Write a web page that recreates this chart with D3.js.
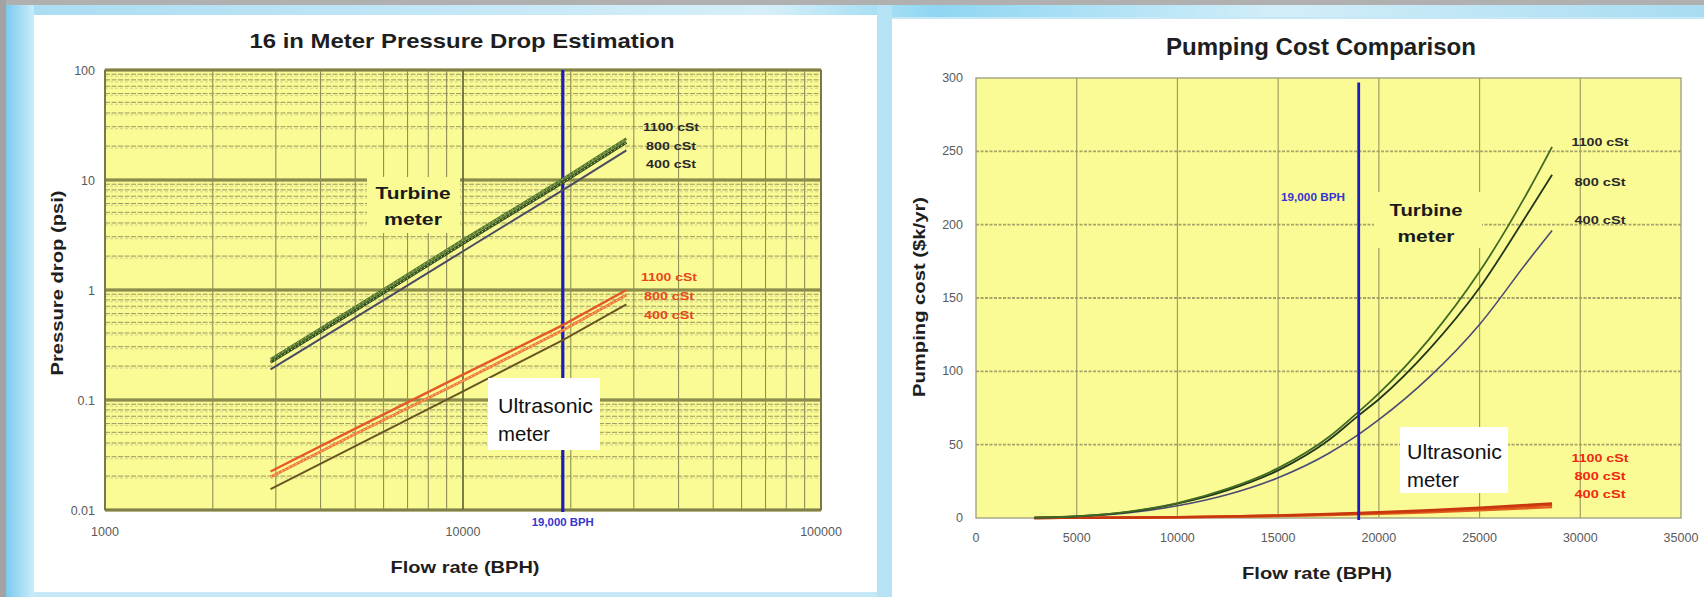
<!DOCTYPE html>
<html>
<head>
<meta charset="utf-8">
<script src="https://cdn.jsdelivr.net/npm/d3@7"></script>
<style>
  body { margin: 0; overflow: hidden; background: #ffffff; }
  svg { display: block; }
</style>
</head>
<body>
<svg id="chart" width="1704" height="597"></svg>
<script>
// ---- Pressure drop (log-log) : flow rate in BPH, drop in psi ----
const dropFlow = [2900, 5000, 10000, 19000, 28600];
const turbineDrop1100 = [0.234, 0.70, 2.85, 10.2, 23.8];
const turbineDrop800  = [0.220, 0.65, 2.65, 9.5, 22.0];
const turbineDrop400  = [0.190, 0.56, 2.25, 8.1, 18.6];
const ultraDrop1100 = [0.0224, 0.055, 0.17, 0.48, 1.00];
const ultraDrop800  = [0.0200, 0.049, 0.15, 0.43, 0.90];
const ultraDrop400  = [0.0155, 0.038, 0.12, 0.35, 0.74];

// ---- Pumping cost (linear) : flow rate in BPH, cost in $k/yr ----
const costFlow = [2900, 5000, 7500, 10000, 12500, 15000, 17500, 19000, 20000, 22500, 25000, 27500, 28600];
const turbineCost1100 = [0.2, 1.2, 4.2, 10.2, 20, 34, 55, 72.5, 85, 122, 168, 225, 253];
const turbineCost800  = [0.2, 1.1, 4.0, 9.8, 19, 32.5, 53, 70, 81, 115, 157, 210, 234];
const turbineCost400  = [0.2, 1.0, 3.4, 8.3, 16, 27.5, 44, 57, 67, 96, 132, 177, 196];
const ultraCost1100 = [0.02, 0.1, 0.3, 0.6, 1.1, 1.8, 2.7, 3.4, 3.9, 5.3, 7.0, 9.0, 10.0];
const ultraCost800  = [0.02, 0.09, 0.27, 0.55, 1.0, 1.6, 2.4, 3.1, 3.5, 4.8, 6.3, 8.1, 9.0];
const ultraCost400  = [0.015, 0.07, 0.2, 0.45, 0.8, 1.3, 2.0, 2.5, 2.9, 3.9, 5.2, 6.7, 7.4];

const viscosityLabels = ["1100 cSt", "800 cSt", "400 cSt"];
const logFlowTicks = [1000, 10000, 100000];
const logDropTicks = [0.01, 0.1, 1, 10, 100];
const linFlowTicks = [0, 5000, 10000, 15000, 20000, 25000, 30000, 35000];
const linCostTicks = [0, 50, 100, 150, 200, 250, 300];
const markerFlow = 19000;
const markerLabel = "19,000 BPH";

const svg = d3.select("#chart");
const defs = svg.append("defs");

// ---------- slide backdrop ----------
const gBand = defs.append("linearGradient").attr("id", "bandH").attr("x1", 0).attr("x2", 1).attr("y1", 0).attr("y2", 0);
gBand.append("stop").attr("offset", "0%").attr("stop-color", "#7ccbed");
gBand.append("stop").attr("offset", "100%").attr("stop-color", "#c9ecf9");
const gTop = defs.append("linearGradient").attr("id", "bandTop").attr("x1", 0).attr("x2", 1).attr("y1", 0).attr("y2", 0);
gTop.append("stop").attr("offset", "0%").attr("stop-color", "#a9dcf2");
gTop.append("stop").attr("offset", "45%").attr("stop-color", "#d6eff9");
gTop.append("stop").attr("offset", "55%").attr("stop-color", "#8fd6f2");
gTop.append("stop").attr("offset", "75%").attr("stop-color", "#d3eef9");
gTop.append("stop").attr("offset", "100%").attr("stop-color", "#a8dcf1");

svg.append("rect").attr("width", 1704).attr("height", 597).attr("fill", "#c6e8f6");
svg.append("rect").attr("x", 0).attr("y", 5).attr("width", 1704).attr("height", 12).attr("fill", "url(#bandTop)");
svg.append("rect").attr("x", 6).attr("y", 5).attr("width", 28).attr("height", 592).attr("fill", "url(#bandH)");
svg.append("rect").attr("x", 877).attr("y", 5).attr("width", 15).attr("height", 592).attr("fill", "#b6e2f5");
svg.append("rect").attr("x", 0).attr("y", 0).attr("width", 1704).attr("height", 5).attr("fill", "#b0b0b0");
svg.append("rect").attr("x", 0).attr("y", 0).attr("width", 6).attr("height", 597).attr("fill", "#a3a3a3");
svg.append("rect").attr("x", 34).attr("y", 15).attr("width", 843).attr("height", 577).attr("fill", "#ffffff");
svg.append("rect").attr("x", 892).attr("y", 19).attr("width", 812).attr("height", 578).attr("fill", "#ffffff");

const plotFill = "#fbfb96";
const font = "'Liberation Sans', Arial, sans-serif";
const narrow = "'Liberation Sans Narrow', 'Liberation Sans', Arial, sans-serif";

function addText(g, x, y, str, opt) {
  const t = g.append("text")
    .attr("x", x).attr("y", y)
    .attr("dominant-baseline", "central")
    .attr("text-anchor", opt.anchor || "middle")
    .attr("font-family", opt.family || font)
    .attr("font-size", opt.size)
    .attr("font-weight", opt.weight || "normal")
    .attr("fill", opt.fill || "#222")
    .text(str);
  if (opt.len) t.attr("textLength", opt.len).attr("lengthAdjust", "spacingAndGlyphs");
  if (opt.rotate) t.attr("transform", `rotate(-90,${x},${y})`);
  return t;
}

// =====================================================================
// Left: 16 in Meter Pressure Drop Estimation (log-log)
// =====================================================================
const xL = d3.scaleLog().domain([1000, 100000]).range([105, 821]);
const yL = d3.scaleLog().domain([0.01, 100]).range([510, 70]);
const gL = svg.append("g");

gL.append("rect")
  .attr("x", xL.range()[0]).attr("y", yL.range()[1])
  .attr("width", xL.range()[1] - xL.range()[0])
  .attr("height", yL.range()[0] - yL.range()[1])
  .attr("fill", plotFill);

const isDecade = v => Math.abs(Math.log10(v) - Math.round(Math.log10(v))) < 1e-9;

// horizontal log grid: minor lines as doubled dashed rules, decades as heavy bands
const hTicks = yL.ticks();
const hMinor = hTicks.filter(v => !isDecade(v));
gL.selectAll("line.hminA").data(hMinor).join("line")
  .attr("x1", xL.range()[0]).attr("x2", xL.range()[1])
  .attr("y1", d => yL(d) - 0.8).attr("y2", d => yL(d) - 0.8)
  .attr("stroke", "#97975e").attr("stroke-width", 1).attr("stroke-dasharray", "5,1.5");
gL.selectAll("line.hminB").data(hMinor).join("line")
  .attr("x1", xL.range()[0]).attr("x2", xL.range()[1])
  .attr("y1", d => yL(d) + 1.2).attr("y2", d => yL(d) + 1.2)
  .attr("stroke", "#c6c68a").attr("stroke-width", 0.8).attr("stroke-dasharray", "3,2");
gL.selectAll("line.hmaj").data(hTicks.filter(isDecade)).join("line")
  .attr("x1", xL.range()[0]).attr("x2", xL.range()[1])
  .attr("y1", d => yL(d)).attr("y2", d => yL(d))
  .attr("stroke", "#9c9c5a").attr("stroke-width", 3.5);
gL.selectAll("line.hmajc").data(hTicks.filter(isDecade)).join("line")
  .attr("x1", xL.range()[0]).attr("x2", xL.range()[1])
  .attr("y1", d => yL(d)).attr("y2", d => yL(d))
  .attr("stroke", "#7d7d40").attr("stroke-width", 1);

// vertical log grid
gL.selectAll("line.vg").data(xL.ticks()).join("line")
  .attr("x1", d => xL(d)).attr("x2", d => xL(d))
  .attr("y1", yL.range()[1]).attr("y2", yL.range()[0])
  .attr("stroke", d => isDecade(d) ? "#66663a" : "#8f8f58")
  .attr("stroke-width", d => isDecade(d) ? 1.7 : 1.1);

// plot frame
gL.append("rect")
  .attr("x", xL.range()[0]).attr("y", yL.range()[1])
  .attr("width", xL.range()[1] - xL.range()[0])
  .attr("height", yL.range()[0] - yL.range()[1])
  .attr("fill", "none").attr("stroke", "#77774a").attr("stroke-width", 1.2);

// "Turbine meter" label sits on a plain yellow patch
gL.append("rect").attr("x", 367).attr("y", 177).attr("width", 93).attr("height", 56).attr("fill", plotFill);
addText(gL, 413, 193, "Turbine", { size: 17, weight: "bold", fill: "#1a1a1a", len: 75 });
addText(gL, 413, 219, "meter", { size: 17, weight: "bold", fill: "#1a1a1a", len: 58 });

// 19,000 BPH marker line
gL.append("line")
  .attr("x1", xL(markerFlow)).attr("x2", xL(markerFlow))
  .attr("y1", yL.range()[1]).attr("y2", yL.range()[0] + 2)
  .attr("stroke", "#1d1dbf").attr("stroke-width", 3.2);

const lineL = d3.line().x(d => xL(d[0])).y(d => yL(d[1]));
const zip = (xs, ys) => xs.map((v, i) => [v, ys[i]]);

// turbine lines
gL.append("path").datum(zip(dropFlow, turbineDrop400)).attr("d", lineL)
  .attr("fill", "none").attr("stroke", "#4a4a62").attr("stroke-width", 2);
gL.append("path").datum(zip(dropFlow, turbineDrop800)).attr("d", lineL)
  .attr("fill", "none").attr("stroke", "#34501c").attr("stroke-width", 3);
gL.append("path").datum(zip(dropFlow, turbineDrop800)).attr("d", lineL)
  .attr("fill", "none").attr("stroke", "#c7d59a").attr("stroke-width", 1).attr("stroke-dasharray", "1.5,2.5");
gL.append("path").datum(zip(dropFlow, turbineDrop1100)).attr("d", lineL)
  .attr("fill", "none").attr("stroke", "#55782c").attr("stroke-width", 2.6);
gL.append("path").datum(zip(dropFlow, turbineDrop1100)).attr("d", lineL)
  .attr("fill", "none").attr("stroke", "#b9cc8c").attr("stroke-width", 0.9).attr("stroke-dasharray", "1.5,3");

// ultrasonic lines
gL.append("path").datum(zip(dropFlow, ultraDrop400)).attr("d", lineL)
  .attr("fill", "none").attr("stroke", "#6a5522").attr("stroke-width", 2);
gL.append("path").datum(zip(dropFlow, ultraDrop800)).attr("d", lineL)
  .attr("fill", "none").attr("stroke", "#ee7a38").attr("stroke-width", 2.8);
gL.append("path").datum(zip(dropFlow, ultraDrop800)).attr("d", lineL)
  .attr("fill", "none").attr("stroke", "#ffd7a8").attr("stroke-width", 1).attr("stroke-dasharray", "1.5,2.5");
gL.append("path").datum(zip(dropFlow, ultraDrop1100)).attr("d", lineL)
  .attr("fill", "none").attr("stroke", "#e4582a").attr("stroke-width", 2.4);

// "Ultrasonic meter" label in a white box
gL.append("rect").attr("x", 488).attr("y", 378).attr("width", 112).attr("height", 72).attr("fill", "#ffffff");
addText(gL, 498, 405, "Ultrasonic", { size: 21, family: narrow, anchor: "start", fill: "#111", len: 95 });
addText(gL, 498, 433, "meter", { size: 21, family: narrow, anchor: "start", fill: "#111", len: 52 });

// viscosity labels
[127, 146, 164].forEach((y, i) =>
  addText(gL, 671, y, viscosityLabels[i], { size: 11.5, weight: "bold", fill: "#2a2a2a", len: 56 - (i ? 6 : 0) }));
[277, 296, 315].forEach((y, i) =>
  addText(gL, 669, y, viscosityLabels[i], { size: 11.5, weight: "bold", fill: "#e8481e", len: 56 - (i ? 6 : 0) }));

// axes tick labels
gL.selectAll("text.yt").data(logDropTicks).join("text")
  .attr("x", 95).attr("y", d => yL(d) + 1)
  .attr("text-anchor", "end").attr("dominant-baseline", "central")
  .attr("font-family", font).attr("font-size", 12.5).attr("fill", "#5a5a5a")
  .text(d => d3.format("~g")(d));
gL.selectAll("text.xt").data(logFlowTicks).join("text")
  .attr("x", d => xL(d)).attr("y", 532)
  .attr("text-anchor", "middle").attr("dominant-baseline", "central")
  .attr("font-family", font).attr("font-size", 12.5).attr("fill", "#5a5a5a")
  .text(d => d3.format("d")(d));
addText(gL, xL(markerFlow), 522, markerLabel, { size: 10, weight: "bold", fill: "#3535d0", len: 62 });

addText(gL, 462, 40, "16 in Meter Pressure Drop Estimation", { size: 21, weight: "bold", fill: "#1e1e1e", len: 425 });
addText(gL, 465, 567, "Flow rate (BPH)", { size: 17, weight: "bold", fill: "#1e1e1e", len: 149 });
addText(gL, 57, 283, "Pressure drop (psi)", { size: 17, weight: "bold", fill: "#1e1e1e", len: 185, rotate: true });

// =====================================================================
// Right: Pumping Cost Comparison (linear)
// =====================================================================
const xR = d3.scaleLinear().domain([0, 35000]).range([976, 1681]);
const yR = d3.scaleLinear().domain([0, 300]).range([518, 78]);
const gR = svg.append("g");

gR.append("rect")
  .attr("x", xR.range()[0]).attr("y", yR.range()[1])
  .attr("width", xR.range()[1] - xR.range()[0])
  .attr("height", yR.range()[0] - yR.range()[1])
  .attr("fill", plotFill);

gR.selectAll("line.hg").data(linCostTicks.slice(1, -1)).join("line")
  .attr("x1", xR.range()[0]).attr("x2", xR.range()[1])
  .attr("y1", d => yR(d)).attr("y2", d => yR(d))
  .attr("stroke", "#a6a468").attr("stroke-width", 1.8).attr("stroke-dasharray", "3,1.5");
gR.selectAll("line.vg").data(linFlowTicks.slice(1, -1)).join("line")
  .attr("x1", d => xR(d)).attr("x2", d => xR(d))
  .attr("y1", yR.range()[1]).attr("y2", yR.range()[0])
  .attr("stroke", "#a09e66").attr("stroke-width", 1.2);

// "Turbine meter" label patch
gR.append("rect").attr("x", 1374).attr("y", 192).attr("width", 108).attr("height", 56).attr("fill", plotFill);
addText(gR, 1426, 210, "Turbine", { size: 17, weight: "bold", fill: "#1a1a1a", len: 73 });
addText(gR, 1426, 236, "meter", { size: 17, weight: "bold", fill: "#1a1a1a", len: 57 });

gR.append("rect")
  .attr("x", xR.range()[0]).attr("y", yR.range()[1])
  .attr("width", xR.range()[1] - xR.range()[0])
  .attr("height", yR.range()[0] - yR.range()[1])
  .attr("fill", "none").attr("stroke", "#9a9a80").attr("stroke-width", 1.3);

const lineR = d3.line().x(d => xR(d[0])).y(d => yR(d[1])).curve(d3.curveMonotoneX);

// ultrasonic cost curves (nearly coincident red band)
[[ultraCost400, "#e0601c"], [ultraCost800, "#d94515"], [ultraCost1100, "#c8380e"]].forEach(([vals, c]) =>
  gR.append("path").datum(zip(costFlow, vals)).attr("d", lineR)
    .attr("fill", "none").attr("stroke", c).attr("stroke-width", 2.4));

// turbine cost curves
gR.append("path").datum(zip(costFlow, turbineCost400)).attr("d", lineR)
  .attr("fill", "none").attr("stroke", "#4a4a72").attr("stroke-width", 1.6);
gR.append("path").datum(zip(costFlow, turbineCost800)).attr("d", lineR)
  .attr("fill", "none").attr("stroke", "#22361a").attr("stroke-width", 1.8);
gR.append("path").datum(zip(costFlow, turbineCost1100)).attr("d", lineR)
  .attr("fill", "none").attr("stroke", "#3f6a22").attr("stroke-width", 1.8);

// 19,000 BPH marker line
gR.append("line")
  .attr("x1", xR(markerFlow)).attr("x2", xR(markerFlow))
  .attr("y1", yR(297)).attr("y2", yR.range()[0] + 2)
  .attr("stroke", "#1d1dbf").attr("stroke-width", 2.8);
addText(gR, 1313, 197, markerLabel, { size: 10, weight: "bold", fill: "#3535d0", len: 64 });

// "Ultrasonic meter" box
gR.append("rect").attr("x", 1400).attr("y", 427).attr("width", 108).attr("height", 66).attr("fill", "#ffffff");
addText(gR, 1407, 451, "Ultrasonic", { size: 21, family: narrow, anchor: "start", fill: "#111", len: 95 });
addText(gR, 1407, 479, "meter", { size: 21, family: narrow, anchor: "start", fill: "#111", len: 52 });

[142, 182, 220].forEach((y, i) =>
  addText(gR, 1600, y, viscosityLabels[i], { size: 11.5, weight: "bold", fill: "#2a2a2a", len: 57 - (i ? 6 : 0) }));
[458, 476, 494].forEach((y, i) =>
  addText(gR, 1600, y, viscosityLabels[i], { size: 11.5, weight: "bold", fill: "#ee2a10", len: 57 - (i ? 6 : 0) }));

gR.selectAll("text.yt").data(linCostTicks).join("text")
  .attr("x", 963).attr("y", d => yR(d))
  .attr("text-anchor", "end").attr("dominant-baseline", "central")
  .attr("font-family", font).attr("font-size", 12.5).attr("fill", "#5a5a5a")
  .text(d => d);
gR.selectAll("text.xt").data(linFlowTicks).join("text")
  .attr("x", d => xR(d)).attr("y", 538)
  .attr("text-anchor", "middle").attr("dominant-baseline", "central")
  .attr("font-family", font).attr("font-size", 12.5).attr("fill", "#5a5a5a")
  .text(d => d);

addText(gR, 1321, 47, "Pumping Cost Comparison", { size: 23, weight: "bold", fill: "#1e1e1e", len: 310 });
addText(gR, 1317, 573, "Flow rate (BPH)", { size: 17, weight: "bold", fill: "#1e1e1e", len: 150 });
addText(gR, 919, 297, "Pumping cost ($k/yr)", { size: 17, weight: "bold", fill: "#1e1e1e", len: 200, rotate: true });
</script>
</body>
</html>
